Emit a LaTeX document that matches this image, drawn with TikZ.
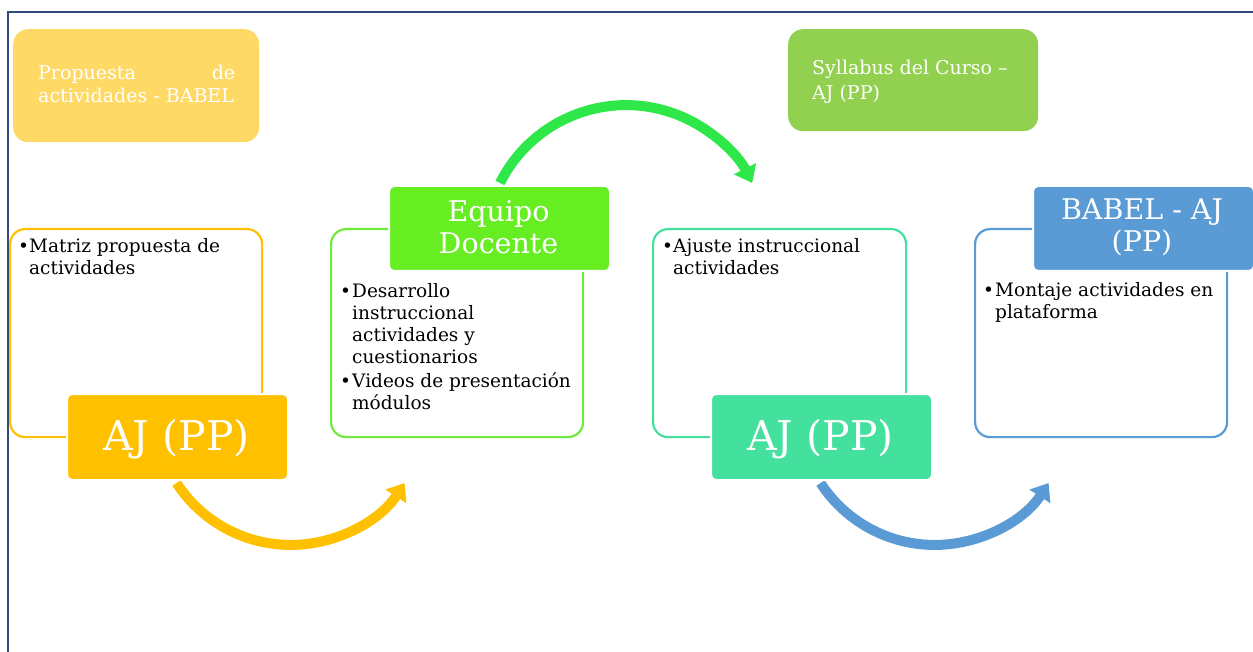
\documentclass[tikz,border=0pt]{standalone}
\usepackage{fontspec}
\setmainfont{DejaVu Serif}
\usetikzlibrary{arrows.meta}
\definecolor{navy}{HTML}{2F4B7C}
\definecolor{cOrange}{HTML}{FFC000}
\definecolor{cYellow}{HTML}{FFD966}
\definecolor{cLime}{HTML}{92D050}
\definecolor{cGreen}{HTML}{66EE22}
\definecolor{cGreenL}{HTML}{70EA3C}
\definecolor{cArrowG}{HTML}{2EE84A}
\definecolor{cTeal}{HTML}{43E09E}
\definecolor{cBlue}{HTML}{5B9BD5}
\tikzset{
 outlinebox/.style={draw, line width=2.2pt, rounded corners=15pt, anchor=north west, fill=white, inner sep=0pt},
 filledbox/.style={draw=white, line width=2pt, rounded corners=5pt, anchor=north west, inner sep=0pt},
 topbox/.style={rounded corners=15pt, anchor=north west, inner sep=0pt},
 bodytext/.style={anchor=base west, inner sep=0pt, font=\fontsize{18.5}{22}\selectfont},
 bigtext/.style={anchor=base, inner sep=0pt, text=white, font=\fontsize{41}{44}\selectfont},
 hdrtext/.style={anchor=base, inner sep=0pt, text=white, font=\fontsize{28.5}{31.5}\selectfont},
 toptext/.style={anchor=base west, inner sep=0pt, text=white},
 flow/.style={line width=10pt, -{Triangle[width=24pt,length=16pt]}},
}
\begin{document}
\begin{tikzpicture}[x=1pt,y=-1pt]
\useasboundingbox (0,0) rectangle (1253,652);
% frame
\draw[navy, line width=1.4pt] (8,652) -- (8,12) -- (1253,12);
% top boxes
\node[topbox, fill=cYellow, minimum width=246pt, minimum height=113pt] (tA) at (13,29) {};
\node[topbox, fill=cLime, minimum width=250pt, minimum height=102pt] (tB) at (788,29) {};
\node[toptext, font=\fontsize{19}{23}\selectfont] (tAt) at (38,80)
  {\begin{tabular}[t]{@{}l@{}}\makebox[197pt][l]{Propuesta\hfill de}\\ actividades - BABEL\end{tabular}};
\node[toptext, font=\fontsize{19}{25}\selectfont] (tBt) at (812,75)
  {\begin{tabular}[t]{@{}l@{}}Syllabus del Curso –\\ AJ (PP)\end{tabular}};
% outline boxes
\node[outlinebox, draw=cOrange, minimum width=252pt, minimum height=208pt] (oA) at (9,228) {};
\node[outlinebox, draw=cGreenL, minimum width=252pt, minimum height=208pt] (oB) at (330,228) {};
\node[outlinebox, draw=cTeal, minimum width=253pt, minimum height=208pt] (oC) at (652,228) {};
\node[outlinebox, draw=cBlue, minimum width=252pt, minimum height=208pt] (oD) at (974,228) {};
% arrows (drawn before filled boxes)
\coordinate (s1) at (176.5,483);
\coordinate (s2) at (500,183);
\coordinate (s3) at (820.5,483);
\draw[flow, cOrange] (s1) arc[start angle=147, end angle=33, radius=136] coordinate (e1);
\draw[flow, cArrowG] (s2) arc[start angle=206.6, end angle=333.4, radius=141] coordinate (e2);
\draw[flow, cBlue] (s3) arc[start angle=147, end angle=33, radius=136] coordinate (e3);
% filled boxes
\node[filledbox, fill=cOrange, minimum width=221pt, minimum height=86pt] (aj1) at (66,393) {};
\node[filledbox, fill=cGreen, minimum width=221pt, minimum height=85pt] (hB) at (388,185) {};
\node[filledbox, fill=cTeal, minimum width=221pt, minimum height=86pt] (aj2) at (710,393) {};
\node[filledbox, fill=cBlue, minimum width=221pt, minimum height=85pt] (hD) at (1032,185) {};
% big labels
\node[bigtext] (aj1t) at (176.5,450) {AJ (PP)};
\node[bigtext] (aj2t) at (820.5,450) {AJ (PP)};
\node[hdrtext] (hBt) at (498.5,222) {\begin{tabular}[t]{@{}c@{}}Equipo\\ Docente\end{tabular}};
\node[hdrtext] (hDt) at (1142,220) {\begin{tabular}[t]{@{}c@{}}BABEL - AJ\\ (PP)\end{tabular}};
% body texts
\node[bodytext] (oAt) at (18,253)
  {\begin{tabular}[t]{@{}p{11pt}@{}l@{}}\textbullet & Matriz propuesta de\\ & actividades\end{tabular}};
\node[bodytext] (oBt) at (340,298)
  {\begin{tabular}[t]{@{}p{12pt}@{}l@{}}\textbullet & Desarrollo\\ & instruccional\\ & actividades y\\ & cuestionarios\\[2pt] \textbullet & Videos de presentación\\ & módulos\end{tabular}};
\node[bodytext] (oCt) at (662,253)
  {\begin{tabular}[t]{@{}p{11pt}@{}l@{}}\textbullet & Ajuste instruccional\\ & actividades\end{tabular}};
\node[bodytext] (oDt) at (983,297)
  {\begin{tabular}[t]{@{}p{12pt}@{}l@{}}\textbullet & Montaje actividades en\\ & plataforma\end{tabular}};
\end{tikzpicture}
\end{document}
